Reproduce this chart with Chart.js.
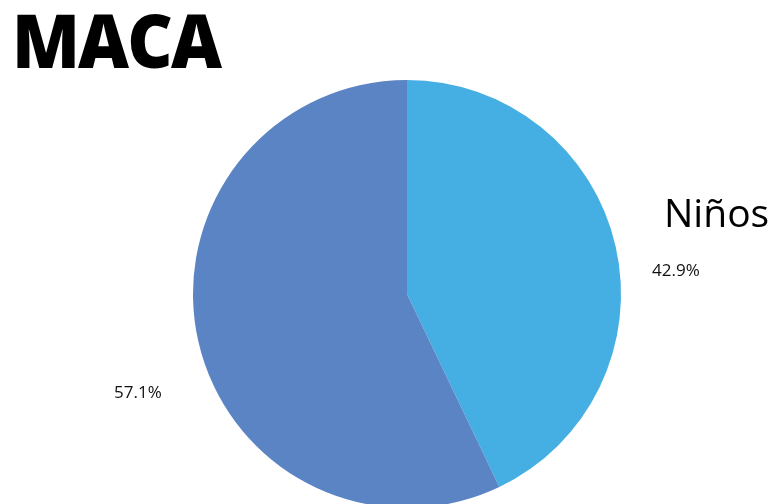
<!DOCTYPE html>
<html>
<head>
<meta charset="utf-8">
<script src="https://cdn.jsdelivr.net/npm/chart.js@4"></script>
<style>
  html, body { margin: 0; padding: 0; background: #fff; overflow: hidden; }
  #wrap { width: 774px; height: 520px; }
</style>
</head>
<body>
<div id="wrap"><canvas id="pieChart" width="774" height="520"></canvas></div>
<script>
// Chart data
const chartTitle = 'MACA';
const categories = ['Niños', ''];
const shares = [42.9, 57.1];
const sliceColors = ['#45aee2', '#5b84c4'];

// draws title, category name and percent labels
const textPlugin = {
    id: 'pieText',
    afterDraw(chart) {
        const ctx = chart.ctx;
        const meta = chart.getDatasetMeta(0);
        const cx = meta.data[0].x;
        const cy = meta.data[0].y;
        const r = meta.data[0].outerRadius;

        ctx.save();
        ctx.fillStyle = '#000';
        ctx.textBaseline = 'alphabetic';

        // title: slightly tight letter spacing, then fit to the reference width
        ctx.font = '800 72px "Open Sans"';
        ctx.letterSpacing = '-2px';
        const tw = ctx.measureText(chartTitle).width;
        ctx.save();
        ctx.translate(12, 68);
        ctx.scale(Math.min(1, 208 / tw), 1.03);
        ctx.fillText(chartTitle, 0, 0);
        ctx.restore();
        ctx.letterSpacing = '0px';

        // category name next to first slice
        ctx.font = '39px "Open Sans"';
        ctx.textAlign = 'left';
        if (categories[0]) ctx.fillText(categories[0], cx + r + 43, cy - 67);

        // percent labels
        ctx.font = '17px "Open Sans"';
        ctx.fillStyle = '#111';
        ctx.fillText(shares[0].toFixed(1) + '%', cx + r + 31, cy - 18);
        ctx.fillText(shares[1].toFixed(1) + '%', cx - r - 79, cy + 104);
        ctx.restore();
    }
};

const pieChart = new Chart(document.getElementById('pieChart'), {
    type: 'pie',
    data: {
        labels: categories,
        datasets: [{
            data: shares,
            backgroundColor: sliceColors,
            borderWidth: 0
        }]
    },
    options: {
        responsive: false,
        animation: false,
        layout: {
            padding: { top: 80, bottom: 12, left: 193, right: 153 }
        },
        plugins: {
            legend: { display: false },
            tooltip: { enabled: false },
            title: { display: false }
        }
    },
    plugins: [textPlugin]
});
</script>
</body>
</html>
